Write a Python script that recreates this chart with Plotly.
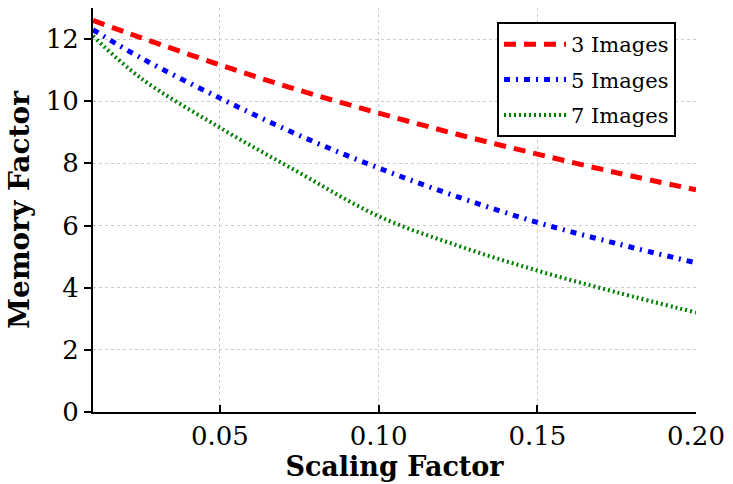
import plotly.graph_objects as go

scaling = [0.01, 0.025, 0.05, 0.075, 0.10, 0.125, 0.15, 0.175, 0.20]
mem_3 = [12.6, 12.05, 11.17, 10.35, 9.62, 8.93, 8.30, 7.70, 7.15]
mem_5 = [12.3, 11.4, 10.1, 8.9, 7.85, 6.92, 6.10, 5.42, 4.80]
mem_7 = [12.1, 10.75, 9.15, 7.7, 6.3, 5.35, 4.55, 3.85, 3.20]
x_ticks = [0.05, 0.10, 0.15, 0.20]
x_labels = ["0.05", "0.10", "0.15", "0.20"]
y_ticks = [0, 2, 4, 6, 8, 10, 12]

font_family = "DejaVu Serif"

fig = go.Figure()
fig.add_trace(go.Scatter(x=scaling, y=mem_3, mode="lines", name="3 Images", legendgroup="a",
                         line=dict(color="#ff0000", width=5, dash="12px,8px", shape="spline")))
fig.add_trace(go.Scatter(x=scaling, y=mem_5, mode="lines", name="5 Images", legendgroup="b",
                         line=dict(color="#0000ff", width=5, dash="6px,6px,2px,6px", shape="spline")))
fig.add_trace(go.Scatter(x=scaling, y=mem_7, mode="lines", name="7 Images", legendgroup="c",
                         line=dict(color="#008000", width=4, dash="2px,3px", shape="spline")))

fig.update_layout(
    width=733, height=484,
    margin=dict(l=93, r=33, t=8, b=71),
    paper_bgcolor="white", plot_bgcolor="white",
    font=dict(family=font_family, color="black", size=22),
    legend=dict(x=0.67, y=0.965, xanchor="left", yanchor="top",
                bordercolor="black", borderwidth=2, bgcolor="white",
                font=dict(size=21), itemwidth=62, tracegroupgap=5),
    xaxis=dict(range=[0.01, 0.20], tickvals=x_ticks, ticktext=x_labels,
               showline=True, linecolor="black", linewidth=2, mirror=False,
               ticks="inside", ticklen=7, tickwidth=2, tickcolor="black",
               showgrid=True, gridcolor="#cccccc", griddash="dot", gridwidth=1,
               zeroline=False, tickfont=dict(size=26),
               title=dict(text="<b>Scaling Factor</b>", font=dict(size=27), standoff=6)),
    yaxis=dict(range=[0, 13], tickvals=y_ticks,
               showline=True, linecolor="black", linewidth=2, mirror=False,
               ticks="outside", ticklen=7, tickwidth=2, tickcolor="black",
               showgrid=True, gridcolor="#cccccc", griddash="dot", gridwidth=1,
               zeroline=False, tickfont=dict(size=26),
               title=dict(text="<b>Memory Factor</b>", font=dict(size=28), standoff=8)),
)

fig.write_html("out.html")
